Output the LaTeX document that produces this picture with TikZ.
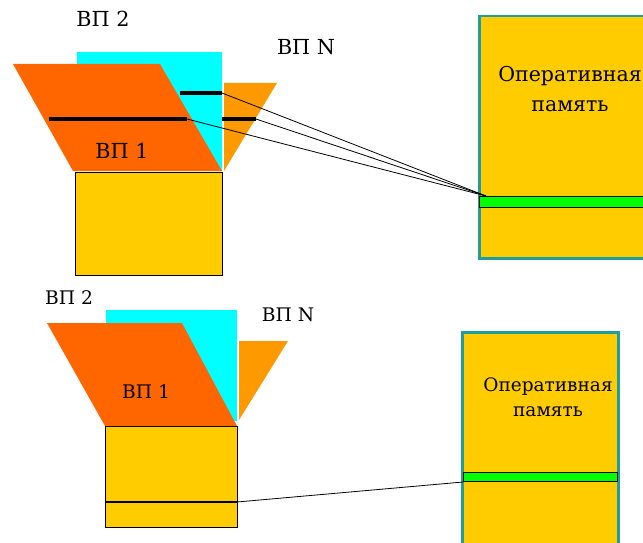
\documentclass[tikz,border=0pt]{standalone}
\usepackage{fontspec}
\setmainfont{DejaVu Serif}
\newfontfamily\vpfont{DejaVu Serif}
\definecolor{vpcyan}{HTML}{00FFFF}
\definecolor{vpred}{HTML}{FF6600}
\definecolor{vporange}{HTML}{FF9900}
\definecolor{vpyellow}{HTML}{FFCC00}
\definecolor{vpgreen}{HTML}{00FF00}
\definecolor{ramedge}{HTML}{1E9E9E}
\tikzset{
	page/.style={line width=3.5pt},
	link/.style={line width=0.8pt},
	disk/.style={draw, fill=vpyellow, line width=1pt, anchor=north west, inner sep=0pt},
	ram/.style={draw=ramedge, fill=vpyellow, line width=2.5pt, anchor=north west, inner sep=0pt},
	bar/.style={draw, fill=vpgreen, line width=1pt, anchor=north west, inner sep=0pt},
	biglabel/.style={font=\vpfont\fontsize{20.7}{24}\selectfont},
	bigmem/.style={font=\vpfont\fontsize{20.5}{30}\selectfont, align=center},
	smalllabel/.style={font=\vpfont\fontsize{18.7}{22}\selectfont},
	smallmem/.style={font=\vpfont\fontsize{18.5}{25}\selectfont, align=center}
}

\begin{document}
\begin{tikzpicture}[x=1pt, y=-1pt]
		\useasboundingbox (0,0) rectangle (643,543);
		\clip (0,0) rectangle (643,543);
		
		% top part
		\fill[vpcyan] (77,52) rectangle (222,171);
		\fill[vpred] (13,64) -- (160,64) -- (222,171) -- (73,171) -- cycle;
		\fill[vporange] (224,83) -- (277,83) -- (224,171) -- cycle;
		\node[disk, minimum width=147pt, minimum height=103pt] (disk1) at (75,172) {};
		\node[ram, minimum width=180pt, minimum height=242pt] (ram1) at (478,15) {};
		\node[bar, minimum width=180pt, minimum height=11pt] (bar1) at (479,196) {};
		\coordinate (hit1) at (486,196);
		
		\node[biglabel] (vp2a) at (103,19) {ВП 2};
		\node[biglabel] (vpna) at (306,47) {ВП N};
		\node[biglabel] (vp1a) at (122,151) {ВП 1};
		\node[bigmem] (mema) at (570,89) {Оперативная\\память};
		
		\coordinate (a1) at (180,93);
		\coordinate (a2) at (222,93);
		\coordinate (b1) at (49,119);
		\coordinate (b2) at (187,119);
		\coordinate (c1) at (222,119);
		\coordinate (c2) at (256,119);
		\draw[page] (a1) -- (a2);
		\draw[page] (b1) -- (b2);
		\draw[page] (c1) -- (c2);
		\draw[link] (a2) -- (hit1);
		\draw[link] (c2) -- (hit1);
		\draw[link] (b2) -- (hit1);
		
		% bottom part
		\fill[vpcyan] (106,310) rectangle (237,421);
		\fill[vpred] (47,323) -- (182,323) -- (237,426) -- (105,426) -- cycle;
		\fill[vporange] (239,341) -- (288,341) -- (239,420) -- cycle;
		\node[disk, minimum width=132pt, minimum height=101pt] (disk2) at (105,426) {};
		\node[ram, minimum width=156pt, minimum height=230pt] (ram2) at (461,331) {};
		\node[bar, minimum width=154pt, minimum height=9pt] (bar2) at (463,472) {};
		
		\node[smalllabel] (vp2b) at (69,298) {ВП 2};
		\node[smalllabel] (vpnb) at (288,315) {ВП N};
		\node[smalllabel] (vp1b) at (146,392) {ВП 1};
		\node[smallmem] (memb) at (548,397) {Оперативная\\память};
		
		\coordinate (d1) at (105,502);
		\coordinate (d2) at (237,502);
		\draw[line width=2pt] (d1) -- (d2);
		\draw[link] (d2) -- (bar2.south west);
	\end{tikzpicture}
\end{document}
